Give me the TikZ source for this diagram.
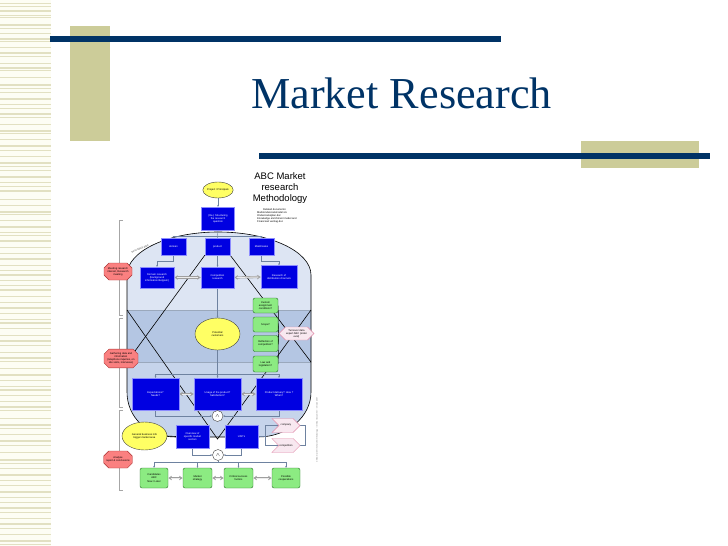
\documentclass[tikz,border=0pt]{standalone}
\usepackage{fontspec}
\setmainfont{Liberation Serif}
\newfontfamily\arialf{Liberation Sans}
\usetikzlibrary{shapes.geometric,shapes.misc,shapes.symbols,arrows.meta}
\pgfdeclarelayer{bg}
\pgfsetlayers{bg,main}
\definecolor{navy}{RGB}{0,51,102}
\definecolor{khaki}{RGB}{204,204,153}
\definecolor{stripe}{RGB}{226,224,194}
\definecolor{cream}{RGB}{253,253,244}
\definecolor{boxblue}{RGB}{0,0,225}
\definecolor{gfill}{RGB}{140,235,130}
\definecolor{gdraw}{RGB}{40,110,40}
\definecolor{yfill}{RGB}{255,255,100}
\definecolor{pfill}{RGB}{250,128,128}
\definecolor{pdraw}{RGB}{170,50,50}
\definecolor{lpfill}{RGB}{248,232,240}
\definecolor{lpdraw}{RGB}{225,140,170}
\definecolor{captop}{RGB}{221,229,243}
\definecolor{capband}{RGB}{180,198,227}
\definecolor{caplow}{RGB}{198,212,235}
\definecolor{conn}{RGB}{110,130,160}
\tikzset{
  tinyf/.style={font=\arialf\fontsize{2.6}{3.1}\selectfont},
  bbox/.style={tinyf, draw=blue!45!white, line width=0.3pt, fill=boxblue, text=white, align=center, inner sep=0.5pt},
  gbox/.style={tinyf, draw=gdraw, line width=0.4pt, fill=gfill, rounded corners=2pt, align=center, inner sep=0.5pt},
  yell/.style={tinyf, ellipse, draw=black!75, line width=0.4pt, fill=yfill, align=center, inner sep=0pt},
  pinkl/.style={tinyf, chamfered rectangle, chamfered rectangle xsep=2pt, chamfered rectangle ysep=3pt, draw=pdraw, line width=0.4pt, fill=pfill, align=center, inner sep=0.5pt},
  chev/.style={tinyf, signal, signal from=west, signal to=east, draw=lpdraw, line width=0.4pt, fill=lpfill, align=center, inner sep=0.5pt},
  turnst/.style={tinyf, signal, signal to=west and east, draw=lpdraw, line width=0.4pt, fill=lpfill, align=center, inner sep=0.5pt},
  andc/.style={circle, draw=black!75, line width=0.4pt, fill=white, minimum size=11pt, inner sep=0pt, font=\arialf\fontsize{5}{5}\selectfont},
  cn/.style={draw=conn, line width=0.4pt, -{Stealth[length=2pt,width=1.8pt]}},
  cnl/.style={draw=conn, line width=0.4pt},
  dblo/.style={draw=gray!75, line width=2.2pt, {Latex[length=3.5pt,width=5pt]}-{Latex[length=3.5pt,width=5pt]}},
  dbli/.style={draw=gray!15, line width=0.9pt, shorten <=2.5pt, shorten >=2.5pt},
  blk/.style={draw=black, line width=0.6pt},
  brk/.style={draw=gray!70, line width=0.5pt}
}
\begin{document}
\begin{tikzpicture}[x=1pt,y=-1pt]
\useasboundingbox (0,0) rectangle (728,546);
% ---------- title ----------
\node[anchor=base west, inner sep=0, text=navy, font=\fontsize{44.2}{50}\selectfont] (title) at (251,108) {Market Research};
% ---------- diagram nodes ----------
\node[font=\arialf\fontsize{9.5}{11}\selectfont, align=center, inner sep=0] (abc) at (280,188) {ABC Market\\research\\Methodology};
\node[tinyf, align=left, anchor=north west, inner sep=0] (rel) at (257,208) {\hspace{6pt}Related documents:\\Marktonderzoekmodel.xls\\Onderzoeksplan.doc\\Knowledge enrichment model and\\Financieel verslag.doc};
\node[yell, minimum width=30pt, minimum height=16pt] (ell1) at (218,190) {Project / Principals};
\node[bbox, minimum width=33pt, minimum height=23pt] (restr) at (218,218.5) {(Re-) Structuring\\the research\\question};
\node[bbox, minimum width=25pt, minimum height=17pt] (dom) at (173.5,246.5) {domain};
\node[bbox, minimum width=25pt, minimum height=17pt] (prod) at (217.5,246.5) {product};
\node[bbox, minimum width=25pt, minimum height=17pt] (mkt) at (261.5,246.5) {Markt/sales};
\node[bbox, minimum width=34pt, minimum height=21pt] (domr) at (157,277.5) {Domain research\\(background\\information Belgium)};
\node[bbox, minimum width=33pt, minimum height=21pt] (comp) at (217.5,277.5) {Competition\\research};
\node[bbox, minimum width=36pt, minimum height=23pt] (dist) at (279,277) {Research of\\distribution channels};
\node[gbox, minimum width=25pt, minimum height=15pt] (g1) at (265.5,305.5) {Custom\\assignment\\conditions?};
\node[gbox, minimum width=25pt, minimum height=15pt] (g2) at (265.5,324.5) {Scope?};
\node[gbox, minimum width=25pt, minimum height=16pt] (g3) at (265.5,343.5) {Reflection of\\competition?};
\node[gbox, minimum width=25pt, minimum height=16pt] (g4) at (265.5,364) {Law and\\legislation?};
\node[turnst, minimum width=27pt, minimum height=13pt] (turn) at (296.5,333.5) {Turnover data\\expert ABC (order\\eval)};
\node[yell, minimum width=45pt, minimum height=32pt] (pot) at (217.5,334) {Potential\\customers};
\node[bbox, minimum width=47pt, minimum height=32pt] (exp) at (155.5,394) {Expectations?\\Needs?};
\node[bbox, minimum width=47pt, minimum height=32pt] (use) at (217.5,394) {Usage of the product?\\Satisfaction?};
\node[bbox, minimum width=46pt, minimum height=32pt] (del) at (279,394) {Product delivery? How ?\\When?};
\node[andc] (and1) at (217.5,416) {$\wedge$};
\node[yell, minimum width=45pt, minimum height=28pt] (gen) at (144.5,436) {General business info\\bigger market area};
\node[bbox, minimum width=33pt, minimum height=23pt] (ovw) at (192.5,436.5) {Overview of\\specific market\\sectors};
\node[bbox, minimum width=33pt, minimum height=23pt] (usp) at (241.5,436.5) {USP's};
\node[chev, minimum width=28pt, minimum height=14pt] (cmp) at (286,425.5) {company};
\node[chev, minimum width=28pt, minimum height=14pt] (cpt) at (286,445.5) {competition};
\node[andc] (and2) at (218,455) {$\wedge$};
\node[gbox, minimum width=28pt, minimum height=20pt] (c1) at (154,478) {Candidates\\ABC\\Now / Later};
\node[gbox, minimum width=29pt, minimum height=20pt] (c2) at (197.5,478) {Market\\strategy};
\node[gbox, minimum width=29pt, minimum height=20pt] (c3) at (238.5,478) {Critical success\\factors};
\node[gbox, minimum width=28pt, minimum height=20pt] (c4) at (286,478) {Possible\\cooperations};
\node[pinkl, minimum width=28pt, minimum height=17pt] (p1) at (118,271.5) {Meeting research\\interest, Research\\meeting};
\node[pinkl, minimum width=34pt, minimum height=17pt] (p2) at (121,358.5) {Gathering data and\\information\\(telephone inquiries, on\\site visits, interviews)};
\node[pinkl, minimum width=28pt, minimum height=17pt] (p3) at (118,459.5) {Analyse\\report \& conclusions};
\node[tinyf, rotate=22, text=black!70, inner sep=0] (sec) at (140,249) {Secondary data};
\node[font=\arialf\fontsize{2}{2}\selectfont, rotate=90, text=black!55, inner sep=0] (foot) at (317,430) {\copyright\ ABC market research methodology -- internal document -- version 2007};
\coordinate (q1) at (127,310);
\coordinate (q2) at (311,310);
\coordinate (q3) at (127,362);
\coordinate (q4) at (311,362);
\coordinate (vx) at (217.5,439);
% ---------- background layer ----------
\begin{pgfonlayer}{bg}
  \fill[cream] (0,0) rectangle (51,546);
  \foreach \y [count=\i] in {3,6,10,15,17,24,28,33,38,41,47,52,56,63,67,70,77,84,88,92,98,104,108,113,117,124,130,133,139,145,150,156,162,166,170,176,182,186,190,199,205,211,214,220,226,232,235,240,247,253,258,265,270,274,280,285,289,296,302,307,313,319,322,328,335,340,345,352,357,361,368,374,380,386,389,395,401,406,410,418,424,428,434,440,445,452,459,463,468,474,480,485,491,497,502,507,512,518,523,528,534,540,544}{
    \pgfmathsetmacro\w{mod(\i,3)==0 ? 2.2 : (mod(\i,2)==0 ? 1.2 : 0.7)}
    \fill[stripe] (0,\y) rectangle (51,\y+\w);
  }
  \fill[khaki] (70,26) rectangle (110,141);
  \fill[navy] (50,36) rectangle (501,42);
  \fill[khaki] (581,141) rectangle (699,168);
  \fill[navy] (259,153) rectangle (710,159);
  % brackets
  \draw[brk] (123,220) -- (119,220) -- (119,315) -- (123,315);
  \draw[brk] (123,318) -- (119,318) -- (119,407) -- (123,407);
  \draw[brk] (123,410) -- (119,410) -- (119,490) -- (123,490);
  % capsule
  \def\capsule{(127,392) -- (127,275) .. controls (127,251.3) and (167.8,232) .. (218,232) .. controls (269.3,232) and (311,251.3) .. (311,275) -- (311,392) .. controls (311,416.8) and (287.3,437) .. (258,437) -- (176,437) .. controls (146.7,437) and (127,416.8) .. (127,392) -- cycle}
  \fill[caplow] \capsule;
  \begin{scope}
    \clip \capsule;
    \fill[captop] (100,220) rectangle (330,310);
    \fill[capband] (100,310) rectangle (330,362);
    \draw[conn!70, line width=0.3pt] (100,310) -- (330,310) (100,362) -- (330,362);
  \end{scope}
  \draw[blk] \capsule;
  % big black lines
  \draw[blk] (prod.south west) -- (q3);
  \draw[blk] (prod.south east) -- (q4);
  \draw[blk] (q1) -- (vx) -- (q2);
  \foreach \g in {g1,g2,g3,g4} \draw[blk, line width=0.4pt] (\g.east) -- (turn.west);
  \draw[blk] (gen.east) -- (ovw.west);
  % connectors
  \draw[cn] (ell1.south) -- (restr.north);
  \draw[cnl] (restr.south) -- (217.5,236);
  \draw[cn] (173.5,236) -- (dom.north);
  \draw[cn] (217.5,236) -- (prod.north);
  \draw[cn] (261.5,236) -- (mkt.north);
  \draw[cnl] (173.5,236) -- (261.5,236);
  \draw[cn] (dom.south) -- (173.5,261) -| (domr.north);
  \draw[cn] (prod.south) -- (comp.north);
  \draw[cn] (mkt.south) -- (261.5,261) -| (dist.north);
  \draw[cn] (comp.south) -- (pot.north);
  \draw[cnl] (pot.south) -- (217.5,374);
  \draw[cnl] (155.5,374) -- (279,374);
  \draw[cn] (155.5,374) -- (exp.north);
  \draw[cn] (217.5,374) -- (use.north);
  \draw[cn] (279,374) -- (del.north);
  \draw[cn] (exp.south) |- (and1.west);
  \draw[cn] (del.south) |- (and1.east);
  \draw[cn] (use.south) -- (and1.north);
  \draw[cn] (ovw.south) |- (and2.west);
  \draw[cn] (usp.south) |- (and2.east);
  \draw[cnl] (and2.south) -- (218,462);
  \draw[cnl] (154,462) -- (286,462);
  \draw[cn] (154,462) -- (c1.north);
  \draw[cn] (197.5,462) -- (c2.north);
  \draw[cn] (238.5,462) -- (c3.north);
  \draw[cn] (286,462) -- (c4.north);
  \draw[cnl] (usp.east) -- (265,436.5);
  \draw[cnl] (265,425.5) -- (265,445.5);
  \draw[cn] (265,425.5) -- (cmp.west);
  \draw[cn] (265,445.5) -- (cpt.west);
  \draw[cnl] (cmp.east) -- (305,425.5) -- (305,445.5) -- (cpt.east);
  % gray double arrows
  \foreach \a/\b in {domr/comp, comp/dist, exp/use, use/del, c1/c2, c2/c3, c3/c4}{
    \draw[dblo] (\a.east) -- (\b.west);
    \draw[dbli] (\a.east) -- (\b.west);
  }
\end{pgfonlayer}
\end{tikzpicture}
\end{document}
